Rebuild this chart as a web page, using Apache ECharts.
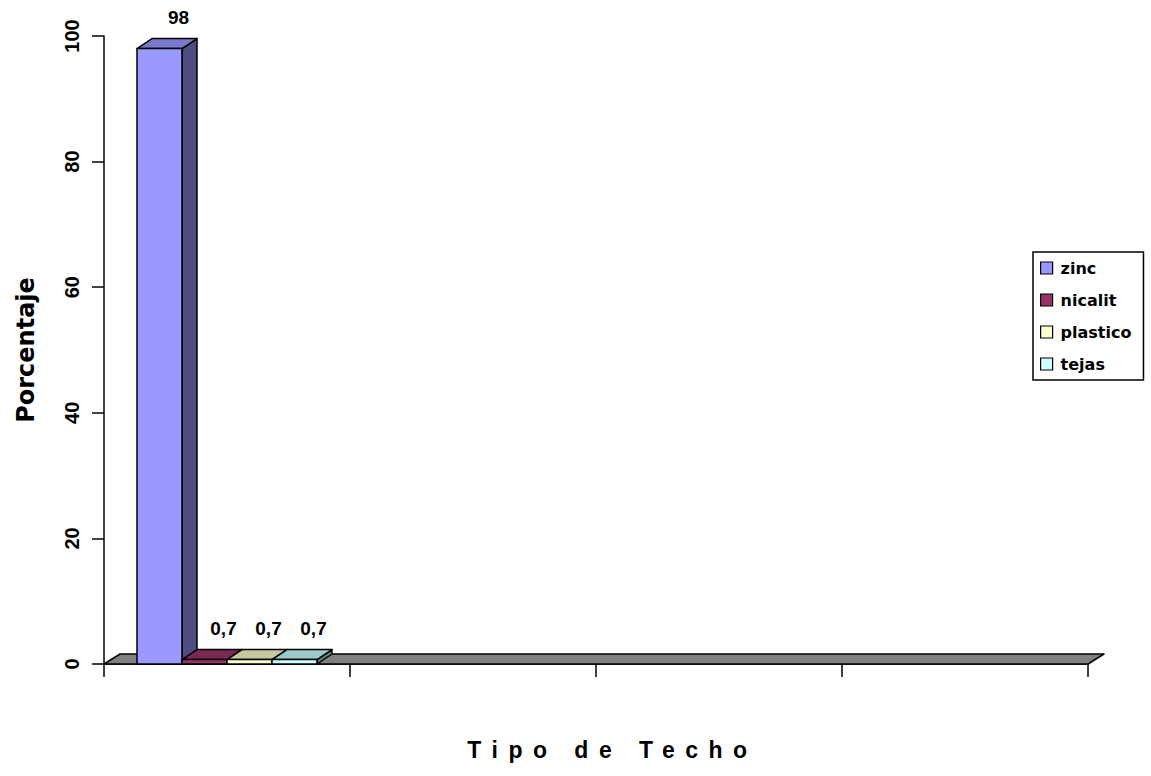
<!DOCTYPE html>
<html>
<head>
<meta charset="utf-8">
<script src="https://cdn.jsdelivr.net/npm/echarts@6/dist/echarts.min.js"></script>
<style>
html,body{margin:0;padding:0;background:#ffffff;}
#c{width:1151px;height:776px;}
</style>
</head>
<body>
<div id="c"></div>
<script>
// ---- data ----
const categories = ['c1', 'c2', 'c3', 'c4'];
const seriesNames = ['zinc', 'nicalit', 'plastico', 'tejas'];
const zincValues = [98];
const nicalitValues = [0.7];
const plasticoValues = [0.7];
const tejasValues = [0.7];
const yTicks = [0, 20, 40, 60, 80, 100];
const xTitle = 'Tipo de Techo';
const yTitle = 'Porcentaje';

// ---- styles ----
const palette = [
  {front: '#9999FF', top: '#7A7ACC', side: '#4D4D80'},
  {front: '#993366', top: '#7A2952', side: '#4D1A33'},
  {front: '#FFFFCC', top: '#C8C89E', side: '#808066'},
  {front: '#CCFFFF', top: '#9CCACA', side: '#668080'}
];
const DX = 15, DY = 10;
const BAR_RATIO = 45 / 246;

function fmt(v) { return String(v).replace('.', ','); }

function barRender(si) {
  const col = palette[si];
  return function (params, api) {
    const cat = api.value(0), val = api.value(1);
    const band = api.size([1, 0])[0];
    const w = band * BAR_RATIO;
    const cx = api.coord([cat, 0])[0];
    const x0 = cx - 2 * w + si * w, x1 = x0 + w;
    const yb = api.coord([cat, 0])[1];
    const yt = api.coord([cat, val])[1];
    const ls = {stroke: '#000', lineWidth: 1.5, lineJoin: 'round'};
    return {
      type: 'group',
      children: [
        {type: 'polygon', shape: {points: [[x1, yb], [x1 + DX, yb - DY], [x1 + DX, yt - DY], [x1, yt]]},
         style: Object.assign({fill: col.side}, ls)},
        {type: 'polygon', shape: {points: [[x0, yt], [x1, yt], [x1 + DX, yt - DY], [x0 + DX, yt - DY]]},
         style: Object.assign({fill: col.top}, ls)},
        {type: 'rect', shape: {x: x0, y: yt, width: w, height: yb - yt},
         style: Object.assign({fill: col.front}, ls)},
        {type: 'text', x: (x0 + x1) / 2 + 19, y: yt - DY - 12,
         style: {text: fmt(val), fill: '#000', fontSize: 19, fontWeight: 'bold',
                 fontFamily: '"Liberation Sans", Arial, sans-serif', align: 'center', verticalAlign: 'bottom'}}
      ]
    };
  };
}

function floorRender(params, api) {
  const cs = params.coordSys;
  const xl = cs.x, xr = cs.x + cs.width;
  const yb = api.coord([0, 0])[1];
  return {
    type: 'polygon',
    shape: {points: [[xl, yb], [xr, yb], [xr + DX + 1, yb - DY], [xl + DX + 1, yb - DY]]},
    style: {fill: '#808080', stroke: '#000', lineWidth: 1.5, lineJoin: 'round'}
  };
}

const valueLists = [zincValues, nicalitValues, plasticoValues, tejasValues];

const series = [{
  type: 'custom', name: 'floor', renderItem: floorRender, clip: false,
  data: [[0, 0]], encode: {x: 0, y: 1}, silent: true, z: 1
}];
seriesNames.forEach(function (nm, i) {
  series.push({
    type: 'custom', name: nm, renderItem: barRender(i), clip: false,
    itemStyle: {color: palette[i].front},
    data: valueLists[i].map(function (v, k) { return [k, v]; }),
    encode: {x: 0, y: 1}, z: 2
  });
});

const chart = echarts.init(document.getElementById('c'), null, {renderer: 'svg'});
chart.setOption({
  animation: false,
  backgroundColor: '#ffffff',
  grid: {left: 104, right: 63, top: 36, bottom: 112, containLabel: false, outerBoundsMode: 'none'},
  legend: {
    orient: 'vertical', left: 1033, top: 252, data: seriesNames,
    icon: 'rect', itemWidth: 12, itemHeight: 12, itemGap: 16,
    itemStyle: {borderColor: '#000', borderWidth: 1.2},
    textStyle: {fontFamily: '"DejaVu Sans", sans-serif', fontWeight: 'bold', fontSize: 16, color: '#000', padding: [0, 0, 0, 3]},
    borderColor: '#000', borderWidth: 1.5, padding: [8, 12, 8, 7], selectedMode: false
  },
  xAxis: {
    type: 'category', data: categories, boundaryGap: true,
    axisLine: {show: true, lineStyle: {color: '#000', width: 1.5}},
    axisTick: {show: true, length: 13, interval: 0, alignWithLabel: false, lineStyle: {color: '#000', width: 1.5}},
    axisLabel: {show: false},
    splitLine: {show: false},
    name: xTitle, nameLocation: 'middle', nameGap: 74,
    nameTextStyle: {fontFamily: '"Liberation Sans", Arial, sans-serif', fontWeight: 'bold', fontSize: 23, color: '#000', padding: [0, 0, 0, 33]}
  },
  yAxis: {
    type: 'value', min: yTicks[0], max: yTicks[yTicks.length - 1], interval: yTicks[1] - yTicks[0],
    axisLine: {show: true, lineStyle: {color: '#000', width: 1.5}},
    axisTick: {show: true, length: 12, lineStyle: {color: '#000', width: 1.5}},
    axisLabel: {rotate: 90, margin: 22, fontFamily: '"Liberation Sans", Arial, sans-serif', fontWeight: 'bold', fontSize: 20, color: '#000'},
    splitLine: {show: false},
    name: yTitle, nameLocation: 'middle', nameGap: 66,
    nameTextStyle: {fontFamily: '"DejaVu Sans", sans-serif', fontWeight: 'bold', fontSize: 24, color: '#000'}
  },
  series: series
});

function applySpacing() {
  document.querySelectorAll('#c text').forEach(function (t) {
    if (t.textContent === xTitle) t.setAttribute('letter-spacing', '10.5');
  });
}
applySpacing();
chart.on('finished', applySpacing);
</script>
</body>
</html>
